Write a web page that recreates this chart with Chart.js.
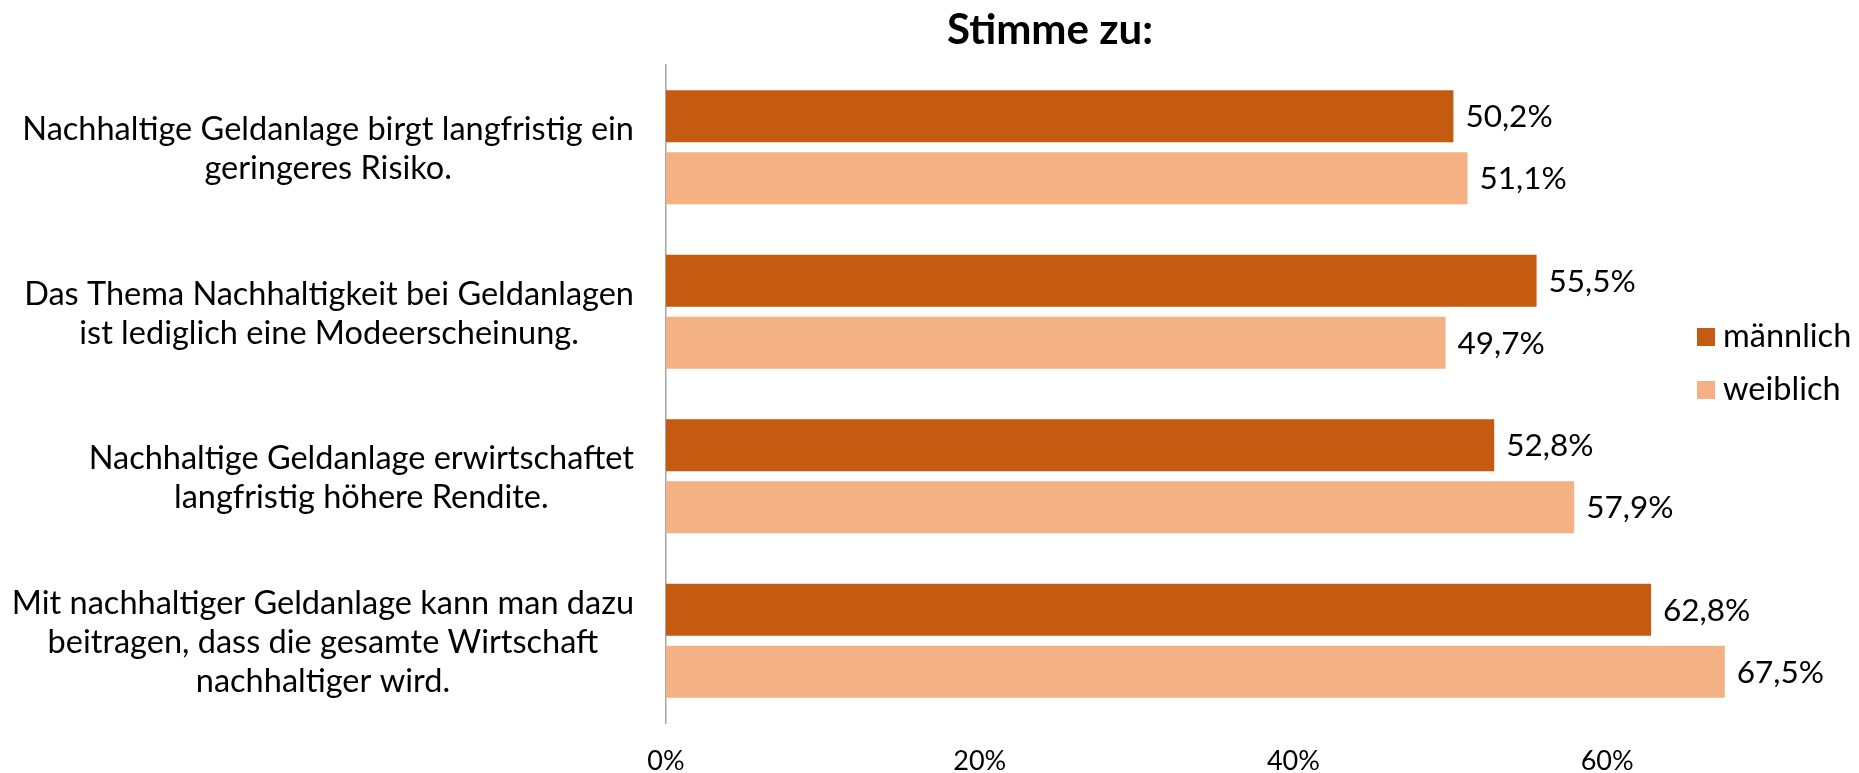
<!DOCTYPE html>
<html>
<head>
<meta charset="utf-8">
<script src="https://cdn.jsdelivr.net/npm/chart.js@4"></script>
<style>
  html, body { margin: 0; padding: 0; background: #fff; }
</style>
</head>
<body>
<canvas id="chart" width="1859" height="773"></canvas>
<script>
const categories = [
    ['Nachhaltige Geldanlage birgt langfristig ein', 'geringeres Risiko.'],
    ['Das Thema Nachhaltigkeit bei Geldanlagen', 'ist lediglich eine Modeerscheinung.'],
    ['Nachhaltige Geldanlage erwirtschaftet', 'langfristig höhere Rendite.'],
    ['Mit nachhaltiger Geldanlage kann man dazu', 'beitragen, dass die gesamte Wirtschaft', 'nachhaltiger wird.']
];
const seriesNames = ['männlich', 'weiblich'];
const maennlich = [50.2, 55.5, 52.8, 62.8];
const weiblich  = [51.1, 49.7, 57.9, 67.5];
const xTicks = [0, 20, 40, 60];
const chartTitle = 'Stimme zu:';

const colors = ['#C55A11', '#F4B183'];
const FONT = 'Lato, "Open Sans", sans-serif';
const fmt = v => v.toFixed(1).replace('.', ',') + '%';

// value labels right of each bar
const valueLabels = {
    id: 'valueLabels',
    afterDatasetsDraw(chart) {
        const ctx = chart.ctx;
        ctx.save();
        ctx.font = '31.5px ' + FONT;
        ctx.fillStyle = '#000';
        ctx.textBaseline = 'middle';
        chart.data.datasets.forEach((ds, i) => {
            chart.getDatasetMeta(i).data.forEach((bar, j) => {
                ctx.fillText(fmt(ds.data[j]), bar.x + 12, bar.y + 1);
            });
        });
        ctx.restore();
    }
};

// category labels: block right aligned next to the axis, lines centered
const catLabels = {
    id: 'catLabels',
    afterDraw(chart) {
        const ctx = chart.ctx;
        const y = chart.scales.y;
        ctx.save();
        ctx.font = '32.5px ' + FONT;
        ctx.fillStyle = '#000';
        ctx.textAlign = 'center';
        ctx.textBaseline = 'middle';
        categories.forEach((lines, i) => {
            const w = Math.max(...lines.map(l => ctx.measureText(l).width));
            const cx = y.right - 32 - w / 2;
            const cy = y.getPixelForTick(i) + 2;
            lines.forEach((l, k) => ctx.fillText(l, cx, cy + (k - (lines.length - 1) / 2) * 39));
        });
        ctx.restore();
    }
};

// title + legend
const extras = {
    id: 'extras',
    afterDraw(chart) {
        const ctx = chart.ctx;
        ctx.save();
        ctx.fillStyle = '#000';
        ctx.font = 'bold 42px ' + FONT;
        ctx.textAlign = 'center';
        ctx.textBaseline = 'middle';
        ctx.fillText(chartTitle, 1050, 30);

        ctx.font = '32.5px ' + FONT;
        ctx.textAlign = 'left';
        seriesNames.forEach((name, i) => {
            const cy = 337 + i * 53;
            ctx.fillStyle = colors[i];
            ctx.fillRect(1697, cy - 9, 18, 18);
            ctx.fillStyle = '#000';
            ctx.fillText(name, 1723, cy);
        });
        ctx.restore();
    }
};

new Chart(document.getElementById('chart'), {
    type: 'bar',
    data: {
        labels: categories,
        datasets: [
            { label: seriesNames[0], data: maennlich, backgroundColor: colors[0] },
            { label: seriesNames[1], data: weiblich, backgroundColor: colors[1] }
        ]
    },
    options: {
        indexAxis: 'y',
        responsive: false,
        animation: false,
        devicePixelRatio: 1,
        categoryPercentage: 0.754,
        barPercentage: 0.84,
        layout: { padding: { top: 65, right: 95, bottom: 0, left: 0 } },
        plugins: { legend: { display: false }, title: { display: false }, tooltip: { enabled: false } },
        scales: {
            x: {
                min: 0, max: 70,
                afterBuildTicks: s => { s.ticks = xTicks.map(v => ({ value: v })); },
                afterFit: s => { s.height = 50; },
                grid: { display: false, drawTicks: false },
                border: { display: false },
                ticks: { padding: 22, color: '#000', font: { family: FONT, size: 27 }, callback: v => v + '%' }
            },
            y: {
                afterFit: s => { s.width = 666; },
                grid: { display: false },
                border: { display: true, color: '#A6A6A6', width: 1.5 },
                ticks: { display: false }
            }
        }
    },
    plugins: [valueLabels, catLabels, extras]
});
</script>
</body>
</html>
